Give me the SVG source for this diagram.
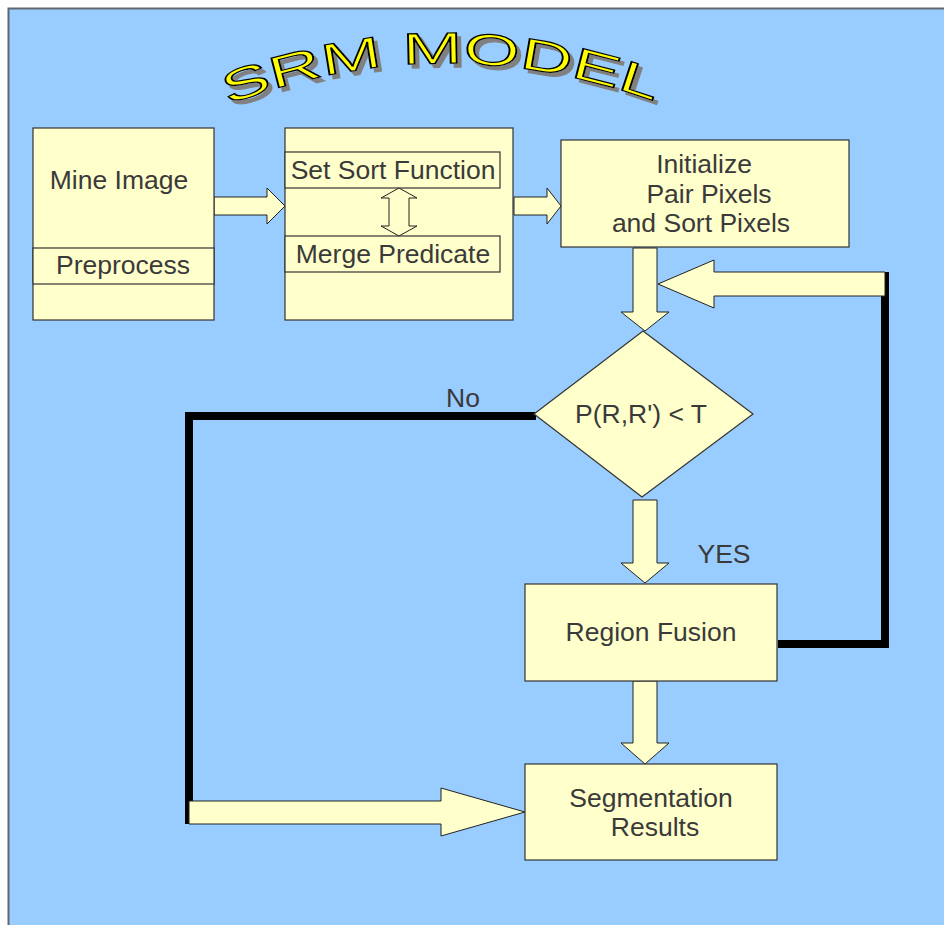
<svg xmlns="http://www.w3.org/2000/svg" width="944" height="925" viewBox="0 0 944 925">
<defs>
<style>
.box{fill:#ffffcc;stroke:#333333;stroke-width:1.2}
.arr{fill:#ffffcc;stroke:#222222;stroke-width:1}
.blk{fill:none;stroke:#000000;stroke-width:8;stroke-linejoin:miter}
.t{font-family:"Liberation Sans",Arial,sans-serif;font-size:26.5px;fill:#3a3a3a;text-anchor:middle}
.title{font-family:"Liberation Sans",Arial,sans-serif;font-size:44px}
</style>
<filter id="sh" x="-10%" y="-30%" width="130%" height="170%">
<feDropShadow dx="4" dy="4" stdDeviation="0.3" flood-color="#808080" flood-opacity="1"/>
</filter>
<path id="arc" d="M 228 105 Q 445 22 664 105"/>
</defs>
<rect x="8.5" y="8.5" width="945" height="930" fill="#99ccff" stroke="#5f6870" stroke-width="2"/>
<g id="title" filter="url(#sh)">
<text class="title" fill="#ffff00" stroke="#000000" stroke-width="1.2"><textPath href="#arc" textLength="436" lengthAdjust="spacingAndGlyphs">SRM MODEL</textPath></text>
</g>
<g id="connectors">
<polyline class="blk" points="536,416 189,416 189,824"/>
<polyline class="blk" points="778,644 885,644 885,272"/>
<polygon class="arr" points="214,197 267,197 267,188 285,206 267,224 267,215 214,215"/>
<polygon class="arr" points="514,197 547,197 547,188 561,206 547,224 547,215 514,215"/>
<polygon class="arr" points="633,248 657,248 657,312 669,312 645,331 621,312 633,312"/>
<polygon class="arr" points="885,272 714,272 714,260 658,284 714,308 714,296 885,296"/>
<polygon class="arr" points="633,500 657,500 657,563 669,563 645,583 621,563 633,563"/>
<polygon class="arr" points="633,681 657,681 657,743 669,743 645,764 621,743 633,743"/>
<polygon class="arr" points="189,801 441,801 441,788 525,812 441,836 441,824 189,824"/>
<text class="t" x="463" y="407">No</text>
<text class="t" x="724" y="563">YES</text>
</g>
<g id="mine-image">
<rect class="box" x="33" y="128" width="181" height="192"/>
<text class="t" x="119" y="189">Mine Image</text>
<rect class="box" x="33" y="248" width="181" height="36"/>
<text class="t" x="123" y="274">Preprocess</text>
</g>
<g id="sort-merge">
<rect class="box" x="285" y="128" width="228" height="192"/>
<rect class="box" x="285" y="152" width="215" height="36"/>
<text class="t" x="393" y="179">Set Sort Function</text>
<rect class="box" x="285" y="236" width="215" height="36"/>
<text class="t" x="393" y="263">Merge Predicate</text>
<polygon class="arr" points="399,188 417,198 409,198 409,226 417,226 399,236 381,226 389,226 389,198 381,198"/>
</g>
<g id="initialize">
<rect class="box" x="561" y="140" width="288" height="107"/>
<text class="t" x="704" y="173">Initialize</text>
<text class="t" x="709" y="203">Pair Pixels</text>
<text class="t" x="701" y="232">and Sort Pixels</text>
</g>
<g id="decision">
<polygon class="box" points="643,331 753,414 642,497 534,414" stroke-width="1"/>
<text class="t" x="641" y="423">P(R,R') &lt; T</text>
</g>
<g id="region-fusion">
<rect class="box" x="525" y="584" width="252" height="97"/>
<text class="t" x="651" y="641">Region Fusion</text>
</g>
<g id="segmentation">
<rect class="box" x="525" y="764" width="252" height="96"/>
<text class="t" x="651" y="807">Segmentation</text>
<text class="t" x="655" y="836">Results</text>
</g>
</svg>
